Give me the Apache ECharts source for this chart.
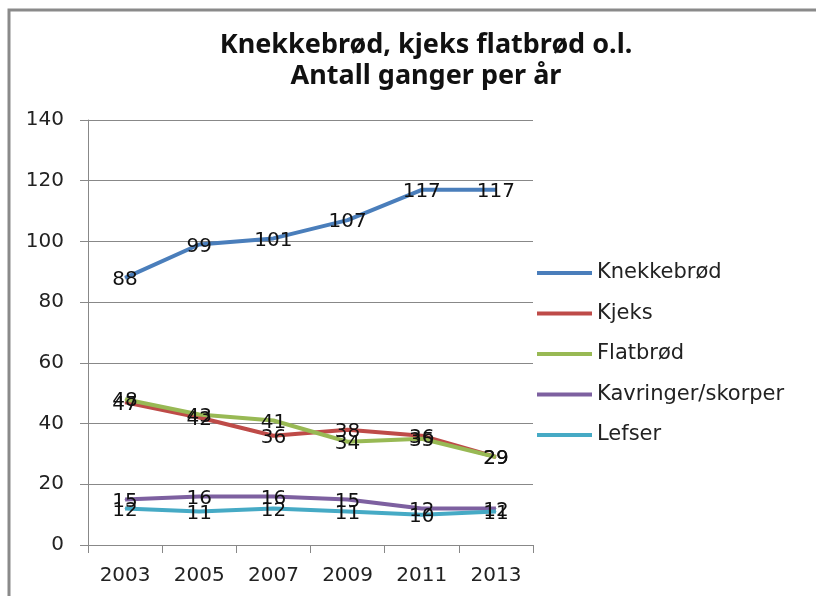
<!DOCTYPE html>
<html>
<head>
<meta charset="utf-8">
<script src="https://cdn.jsdelivr.net/npm/echarts@6/dist/echarts.min.js"></script>
<style>
  html, body { margin: 0; padding: 0; background: #fff; }
  #main { width: 816px; height: 596px; }
</style>
</head>
<body>
<div id="main"></div>
<script>
// data
var years = ['2003', '2005', '2007', '2009', '2011', '2013'];
var seriesNames = ['Knekkebrød', 'Kjeks', 'Flatbrød', 'Kavringer/skorper', 'Lefser'];
var knekkebrod = [88, 99, 101, 107, 117, 117];
var kjeks = [47, 42, 36, 38, 36, 29];
var flatbrod = [48, 43, 41, 34, 35, 29];
var kavringer = [15, 16, 16, 15, 12, 12];
var lefser = [12, 11, 12, 11, 10, 11];
var colors = ['#4A7EBB', '#BE4B48', '#98B954', '#7D60A0', '#46AAC5'];

var values = [knekkebrod, kjeks, flatbrod, kavringer, lefser];
var fontFam = 'DejaVu Sans';

var series = values.map(function (v, i) {
  return {
    name: seriesNames[i],
    type: 'line',
    data: v,
    symbol: 'circle',
    symbolSize: 1,
    lineStyle: { width: 4, color: colors[i] },
    itemStyle: { color: colors[i] },
    label: {
      show: true,
      position: 'inside',
      offset: [0, 2],
      color: '#111',
      fontFamily: fontFam,
      fontSize: 20
    },
    emphasis: { disabled: true },
    animation: false
  };
});

var chart = echarts.init(document.getElementById('main'));
chart.setOption({
  animation: false,
  graphic: [{
    type: 'rect',
    shape: { x: 9, y: 10, width: 900, height: 700 },
    style: { fill: 'none', stroke: '#8a8a8a', lineWidth: 3 },
    silent: true
  }],
  title: {
    text: 'Knekkebrød, kjeks flatbrød o.l.\nAntall ganger per år',
    left: 421,
    top: 25,
    textAlign: 'center',
    textStyle: {
      fontFamily: 'Noto Sans',
      fontWeight: 'bold',
      fontSize: 27,
      lineHeight: 31,
      color: '#111'
    }
  },
  legend: {
    orient: 'vertical',
    left: 532,
    top: 256,
    icon: 'rect',
    itemWidth: 55,
    itemHeight: 4,
    itemGap: 16.5,
    textStyle: { fontFamily: fontFam, fontSize: 21, lineHeight: 24, color: '#222' },
    data: seriesNames
  },
  grid: { left: 88, right: 283, top: 120, bottom: 51, containLabel: false },
  xAxis: {
    type: 'category',
    data: years,
    boundaryGap: true,
    axisLine: { lineStyle: { color: '#888', width: 1 } },
    axisTick: { show: true, length: 8, lineStyle: { color: '#888' } },
    axisLabel: { color: '#222', fontFamily: fontFam, fontSize: 20, margin: 21 }
  },
  yAxis: {
    type: 'value',
    min: 0,
    max: 140,
    interval: 20,
    axisLine: { show: true, lineStyle: { color: '#888', width: 1 } },
    axisTick: { show: true, length: 8, lineStyle: { color: '#888' } },
    splitLine: { lineStyle: { color: '#888', width: 1 } },
    axisLabel: { color: '#222', fontFamily: fontFam, fontSize: 20, margin: 24 }
  },
  series: series
});
</script>
</body>
</html>
